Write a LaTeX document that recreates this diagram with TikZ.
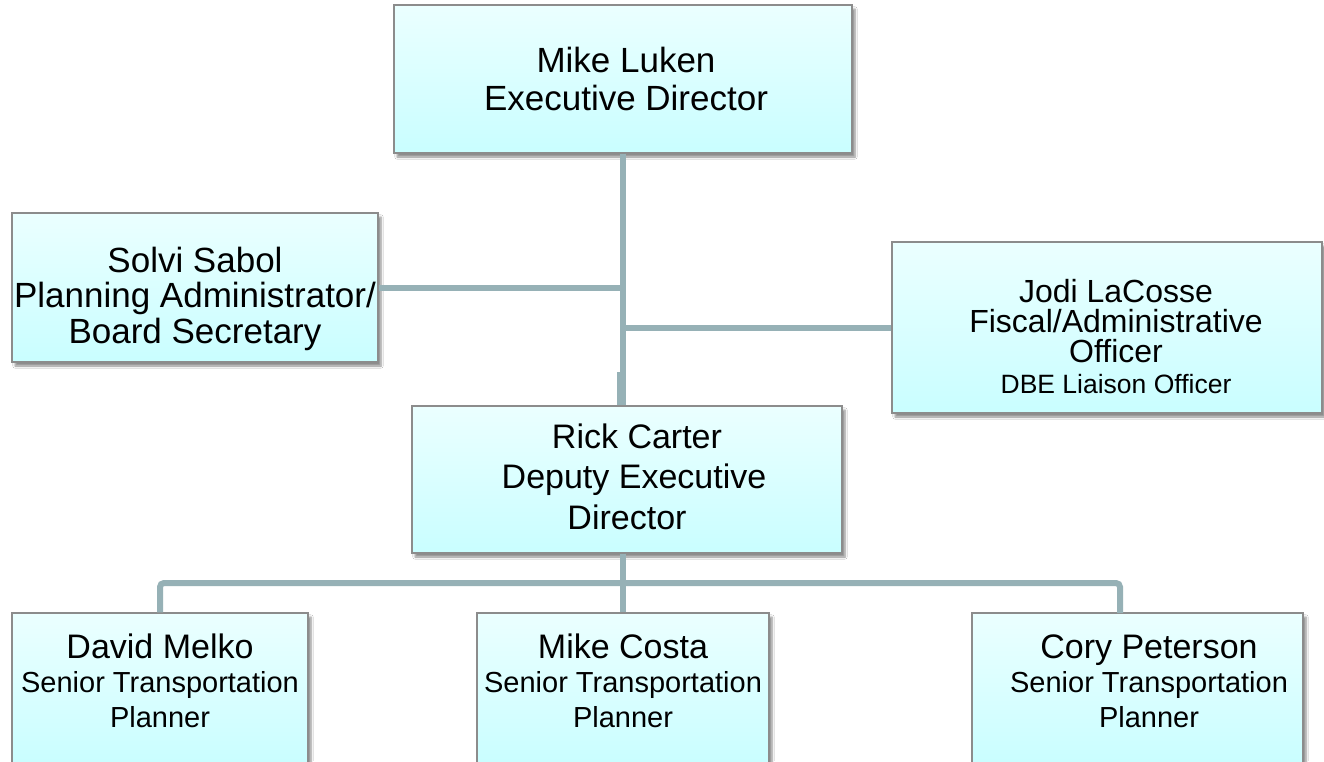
\documentclass[tikz,border=0pt]{standalone}
\usepackage{fontspec}
\setmainfont{Liberation Sans}
\usetikzlibrary{shadows.blur,calc}
\definecolor{boxtop}{HTML}{EBFFFF}
\definecolor{boxbot}{HTML}{C9FEFF}
\definecolor{boxline}{HTML}{8C8C8C}
\definecolor{connc}{HTML}{96B1B6}
\newcommand\bigfnt{\fontsize{35}{38}\selectfont}
\newcommand\mainfnt{\fontsize{34}{38}\selectfont}
\newcommand\jodifnt{\fontsize{32}{34}\selectfont}
\newcommand\subfnt{\fontsize{29}{34}\selectfont}
\newcommand\smallfnt{\fontsize{26.5}{30}\selectfont}
% #1 raise of the first baseline above the box centre, #2 line distance, #3 rows
\newcommand\orgtext[3]{\raisebox{#1}[0pt][0pt]{\vtop{\baselineskip=#2\relax\lineskiplimit=-\maxdimen\halign{\hfil##\hfil\cr#3\crcr}}}}
\tikzset{
  orgbox/.style={draw=boxline, line width=1.2pt, top color=boxtop, bottom color=boxbot,
    inner sep=0pt, font=\mainfnt,
    blur shadow={shadow xshift=3pt, shadow yshift=-4pt, shadow blur steps=6, shadow opacity=45}},
  conn/.style={draw=connc, line width=6pt}
}
\begin{document}
\begin{tikzpicture}[x=1pt,y=-1pt]
\useasboundingbox[fill=white] (0,0) rectangle (1324,761);
% boxes
\node[orgbox, font=\bigfnt, minimum width=458pt, minimum height=148pt] (top) at (623,79)
  {\hspace*{6pt}\orgtext{7pt}{38pt}{Mike Luken\cr Executive Director}};
\node[orgbox, font=\bigfnt, minimum width=366pt, minimum height=149pt] (solvi) at (195,287.5)
  {\orgtext{15.5pt}{35.5pt}{Solvi Sabol\cr Planning Administrator/\cr Board Secretary}};
\node[orgbox, font=\jodifnt, minimum width=430pt, minimum height=171pt] (jodi) at (1107,327.5)
  {\hspace*{18pt}\orgtext{25.5pt}{30pt}{Jodi LaCosse\cr Fiscal/Administrative\cr Officer\cr\noalign{\vskip1pt}\smallfnt DBE Liaison Officer}};
\node[orgbox, minimum width=430pt, minimum height=147pt] (rick) at (627,479.5)
  {\orgtext{31.5pt}{40.5pt}{\hskip20pt Rick Carter\cr\hskip14pt Deputy Executive\cr Director}};
\node[orgbox, minimum width=296pt, minimum height=152pt] (david) at (160,689)
  {\orgtext{31pt}{34.5pt}{David Melko\cr\subfnt Senior Transportation\cr\subfnt Planner}};
\node[orgbox, minimum width=292pt, minimum height=152pt] (costa) at (623,689)
  {\orgtext{31pt}{34.5pt}{Mike Costa\cr\subfnt Senior Transportation\cr\subfnt Planner}};
\node[orgbox, minimum width=331pt, minimum height=152pt] (cory) at (1137.5,689)
  {\hspace*{23pt}\orgtext{31pt}{34.5pt}{Cory Peterson\cr\subfnt Senior Transportation\cr\subfnt Planner}};
% connector points
\coordinate (busy) at (623,583);
\coordinate (coryin) at (1120,613);
% connectors
\draw[conn] (top.south) -- (top.south |- rick.north);
\draw[conn, line width=9pt] ($(top.south |- rick.north)+(-2,0)$) -- ++(0,-33);
\draw[conn] (solvi.east) -- (solvi.east -| top.south);
\draw[conn] (jodi.west) -- (jodi.west -| top.south);
\draw[conn] (rick.south -| busy) -- (busy);
\draw[conn, rounded corners=4pt] (david.north) |- (coryin |- busy) -- (coryin);
\draw[conn] (costa.north) -- (costa.north |- busy);
\end{tikzpicture}
\end{document}
